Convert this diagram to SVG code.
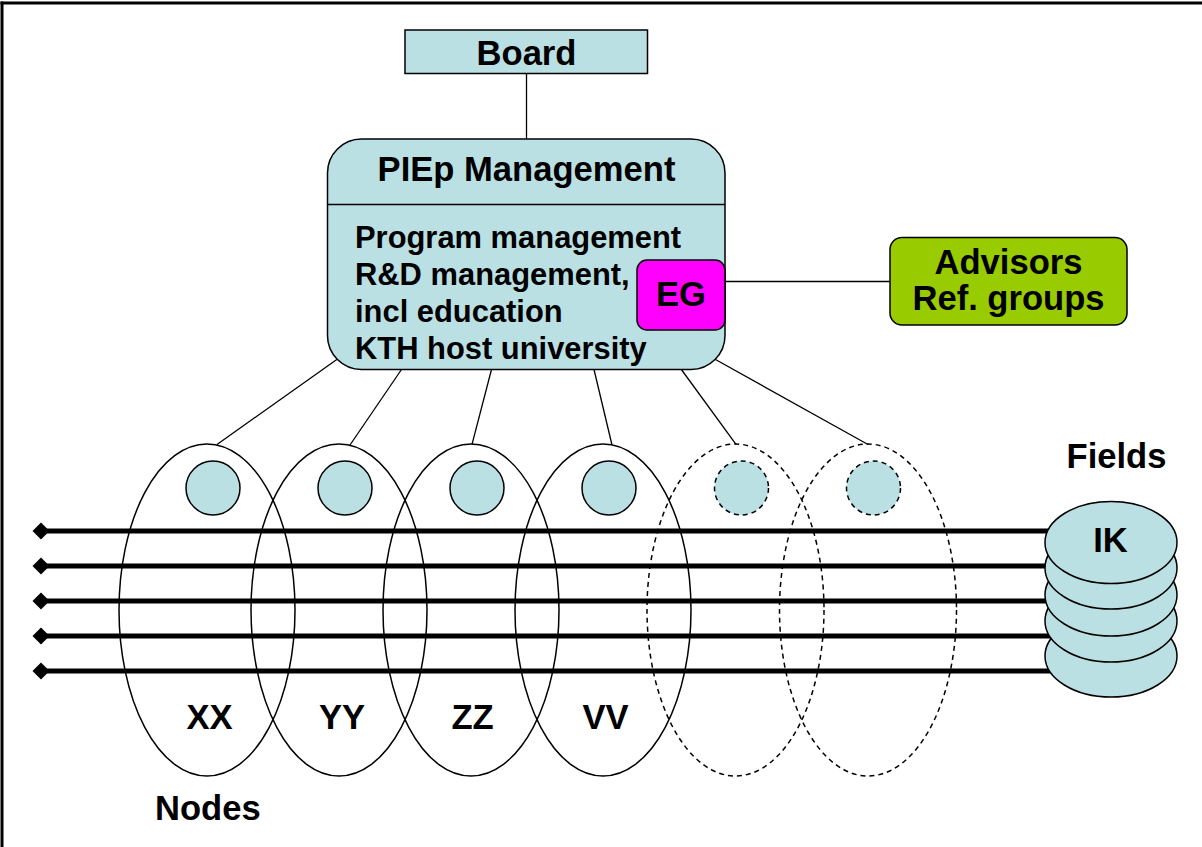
<svg xmlns="http://www.w3.org/2000/svg" width="1202" height="847" viewBox="0 0 1202 847">
<style>
text{font-family:"Liberation Sans",Arial,sans-serif;font-weight:bold;fill:#000}
.h{font-size:34.6px}
.b{font-size:30.9px}
.teal{fill:#BBE0E3;stroke:#000;stroke-width:1.5}
.con{stroke:#000;stroke-width:1.3;fill:none}
.node{fill:none;stroke:#000;stroke-width:1.5}
.dash{stroke-dasharray:5 4}
.field{stroke:#000;stroke-width:5}
.disk{fill:#BBE0E3;stroke:#000;stroke-width:1.5}
</style>
<defs>
<marker id="dia" viewBox="-9 -9 18 18" markerWidth="18" markerHeight="18" markerUnits="userSpaceOnUse" refX="0" refY="0" orient="auto">
<path d="M-8.5 0 L0 -8.5 L8.5 0 L0 8.5 Z" fill="#000"/>
</marker>
</defs>
<rect width="1202" height="847" fill="#fff"/>
<line x1="2" y1="1.5" x2="2" y2="847" stroke="#000" stroke-width="3"/>
<line x1="0.5" y1="3" x2="1202" y2="3" stroke="#000" stroke-width="3"/>

<g id="connectors">
<line class="con" x1="526.5" y1="73.5" x2="526.5" y2="139"/>
<line class="con" x1="725" y1="281.5" x2="890" y2="281.5"/>
<line class="con" x1="337.5" y1="359" x2="217" y2="444.5"/>
<line class="con" x1="401.5" y1="369.5" x2="350" y2="445"/>
<line class="con" x1="491.5" y1="369.5" x2="472" y2="444.3"/>
<line class="con" x1="594" y1="369.5" x2="612" y2="445"/>
<line class="con" x1="681" y1="369" x2="736" y2="444.3"/>
<line class="con" x1="711" y1="357" x2="868" y2="444.5"/>
</g>

<g id="fields-lines">
<line class="field" x1="41" y1="531" x2="1060" y2="531" marker-start="url(#dia)"/>
<line class="field" x1="41" y1="566" x2="1060" y2="566" marker-start="url(#dia)"/>
<line class="field" x1="41" y1="601" x2="1060" y2="601" marker-start="url(#dia)"/>
<line class="field" x1="41" y1="636" x2="1060" y2="636" marker-start="url(#dia)"/>
<line class="field" x1="41" y1="671" x2="1060" y2="671" marker-start="url(#dia)"/>
</g>

<g id="board">
<rect class="teal" x="405" y="30" width="242.5" height="43.5"/>
<text class="h" x="526.5" y="65" text-anchor="middle">Board</text>
</g>

<g id="management">
<rect class="teal" x="327.5" y="139" width="397.5" height="230.5" rx="34" ry="34"/>
<line x1="327.5" y1="204.5" x2="725" y2="204.5" stroke="#000" stroke-width="1.5"/>
<text class="h" x="526.5" y="181" text-anchor="middle">PIEp Management</text>
<text class="b" x="355" y="247.5">Program management</text>
<text class="b" x="355" y="284.5">R&amp;D management,</text>
<text class="b" x="355" y="321.5">incl education</text>
<text class="b" x="355" y="358.5">KTH host university</text>
</g>

<g id="eg">
<rect x="637" y="260" width="88" height="70" rx="10" ry="10" fill="#FF00FF" stroke="#000" stroke-width="1.5"/>
<text class="h" x="681" y="306" text-anchor="middle">EG</text>
</g>

<g id="advisors">
<rect x="890" y="237.5" width="237" height="87.5" rx="12" ry="12" fill="#99CC00" stroke="#000" stroke-width="1.5"/>
<text class="h" x="1008.5" y="273.5" text-anchor="middle">Advisors</text>
<text class="h" x="1008.5" y="310" text-anchor="middle">Ref. groups</text>
</g>

<g id="node-xx">
<ellipse class="node" cx="207" cy="610" rx="88" ry="166"/>
<circle class="teal" cx="213" cy="488" r="27"/>
<text class="h" x="209.5" y="729" text-anchor="middle">XX</text>
</g>
<g id="node-yy">
<ellipse class="node" cx="339" cy="610" rx="88" ry="166"/>
<circle class="teal" cx="345" cy="488" r="27"/>
<text class="h" x="342" y="729" text-anchor="middle">YY</text>
</g>
<g id="node-zz">
<ellipse class="node" cx="471" cy="610" rx="88" ry="166"/>
<circle class="teal" cx="477" cy="488" r="27"/>
<text class="h" x="472.5" y="729" text-anchor="middle">ZZ</text>
</g>
<g id="node-vv">
<ellipse class="node" cx="603" cy="610" rx="88" ry="166"/>
<circle class="teal" cx="609" cy="488" r="27"/>
<text class="h" x="605.5" y="729" text-anchor="middle">VV</text>
</g>
<g id="node-5">
<ellipse class="node dash" cx="735.5" cy="610" rx="88.5" ry="166"/>
<circle class="teal dash" cx="741.5" cy="488" r="27"/>
</g>
<g id="node-6">
<ellipse class="node dash" cx="868" cy="610" rx="88.5" ry="166"/>
<circle class="teal dash" cx="873.5" cy="488" r="27"/>
</g>

<g id="fields-stack">
<ellipse class="disk" cx="1111" cy="656" rx="66" ry="41"/>
<ellipse class="disk" cx="1111" cy="621" rx="66" ry="41"/>
<ellipse class="disk" cx="1111" cy="595" rx="66" ry="41"/>
<ellipse class="disk" cx="1111" cy="568" rx="66" ry="41"/>
<ellipse class="disk" cx="1111" cy="542.5" rx="66" ry="41"/>
<text class="h" x="1110.5" y="552" text-anchor="middle">IK</text>
</g>

<g id="labels">
<text class="h" x="1116.5" y="468" text-anchor="middle">Fields</text>
<text class="h" x="155" y="820">Nodes</text>
</g>
</svg>
